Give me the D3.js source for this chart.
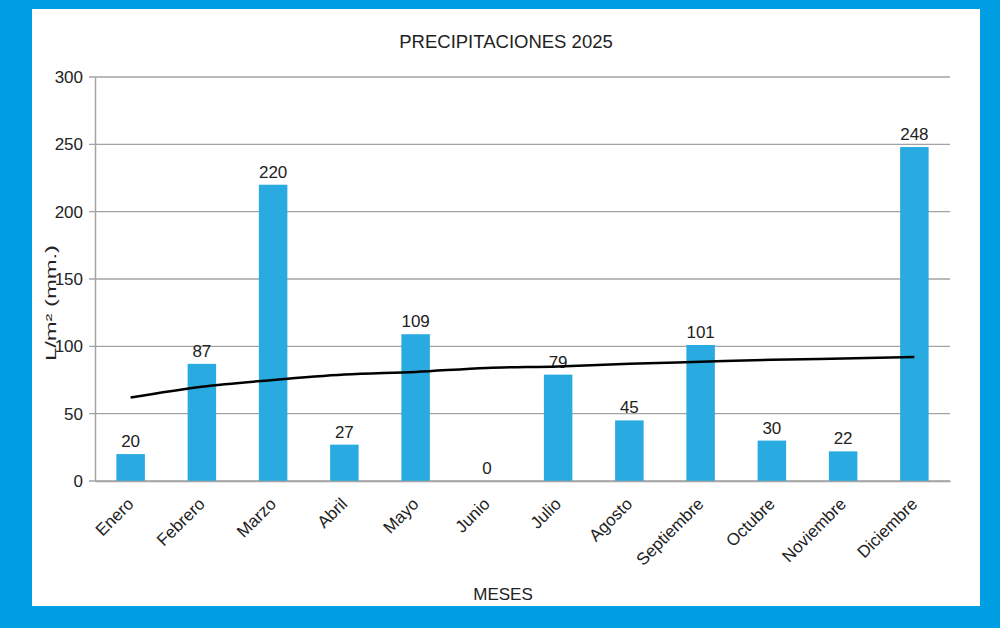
<html>
<head>
<script src="https://d3js.org/d3.v7.min.js"></script>
<style>
  body { margin: 0; background: #009fe3; }
  text { font-family: "Liberation Sans", Arial, sans-serif; fill: #222; }
</style>
<script type="text/javascript">

var months = ["Enero", "Febrero", "Marzo", "Abril", "Mayo", "Junio", "Julio",
              "Agosto", "Septiembre", "Octubre", "Noviembre", "Diciembre"];
var rain = [20, 87, 220, 27, 109, 0, 79, 45, 101, 30, 22, 248];
// trend line, one point per month
var trend = [62, 70, 75, 79, 81, 84, 85, 87, 88.5, 90, 91, 92];
var yTicks = [0, 50, 100, 150, 200, 250, 300];

window.onload = function()
{
  var svg = d3.select("body").append("svg").attr("width", 1000).attr("height", 628);

  // blue frame + white panel
  svg.append("rect").attr("width", 1000).attr("height", 628).attr("fill", "#009fe3");
  svg.append("rect").attr("x", 32).attr("y", 9).attr("width", 948).attr("height", 597).attr("fill", "#fff");

  var left = 95, right = 950, top = 77, bottom = 481;

  var x = d3.scaleBand().domain(months).range([left, right]).paddingInner(0.6).paddingOuter(0.3);
  var y = d3.scaleLinear().domain([0, 300]).range([bottom, top]);

  // gridlines
  svg.append("g").selectAll("line").data(yTicks).enter().append("line")
    .attr("x1", left - 6).attr("x2", right)
    .attr("y1", function(d) { return y(d); }).attr("y2", function(d) { return y(d); })
    .attr("stroke", "#a3a3a3").attr("stroke-width", 1.3);

  // y axis
  var ya = svg.append("g").attr("transform", "translate(" + left + ",0)")
    .call(d3.axisLeft(y).tickValues(yTicks).tickSize(0).tickPadding(12));
  ya.select(".domain").attr("stroke", "#a3a3a3").attr("stroke-width", 1.5);
  ya.selectAll("text").style("font-size", "17px").attr("fill", "#333");

  // bars
  svg.append("g").selectAll("rect").data(rain).enter().append("rect")
    .attr("x", function(d, i) { return x(months[i]); })
    .attr("width", x.bandwidth())
    .attr("y", function(d) { return y(d); })
    .attr("height", function(d) { return bottom - y(d); })
    .attr("fill", "#29abe2");

  // value labels
  svg.append("g").selectAll("text").data(rain).enter().append("text")
    .attr("x", function(d, i) { return x(months[i]) + x.bandwidth() / 2; })
    .attr("y", function(d) { return y(d) - 7; })
    .attr("text-anchor", "middle")
    .style("font-size", "17px")
    .text(function(d) { return d; });

  // x axis
  var xa = svg.append("g").attr("transform", "translate(0," + bottom + ")")
    .call(d3.axisBottom(x).tickSize(0));
  xa.select(".domain").attr("stroke", "#a3a3a3").attr("stroke-width", 1.5);
  xa.selectAll("text")
    .style("font-size", "17px").attr("fill", "#333")
    .attr("text-anchor", "end")
    .attr("x", 0).attr("y", 0).attr("dy", 0)
    .attr("transform", "translate(4,24) rotate(-45)");

  // trend line
  var line = d3.line()
    .curve(d3.curveMonotoneX)
    .x(function(d, i) { return x(months[i]) + x.bandwidth() / 2; })
    .y(function(d) { return y(d); });
  svg.append("path").datum(trend)
    .attr("d", line).attr("fill", "none")
    .attr("stroke", "#000").attr("stroke-width", 2.5);

  // titles
  svg.append("text").attr("x", 506).attr("y", 48).attr("text-anchor", "middle")
    .style("font-size", "18.5px").text("PRECIPITACIONES 2025");
  svg.append("text").attr("x", 503).attr("y", 600).attr("text-anchor", "middle")
    .style("font-size", "17px").text("MESES");
  // the y title is drawn stretched in the original
  svg.append("text").attr("transform", "translate(56,303) rotate(-90)").attr("text-anchor", "middle")
    .style("font-size", "14px")
    .attr("textLength", 116).attr("lengthAdjust", "spacingAndGlyphs")
    .text("L/m² (mm.)");
}

</script>
</head>
<body>
</body>
</html>
